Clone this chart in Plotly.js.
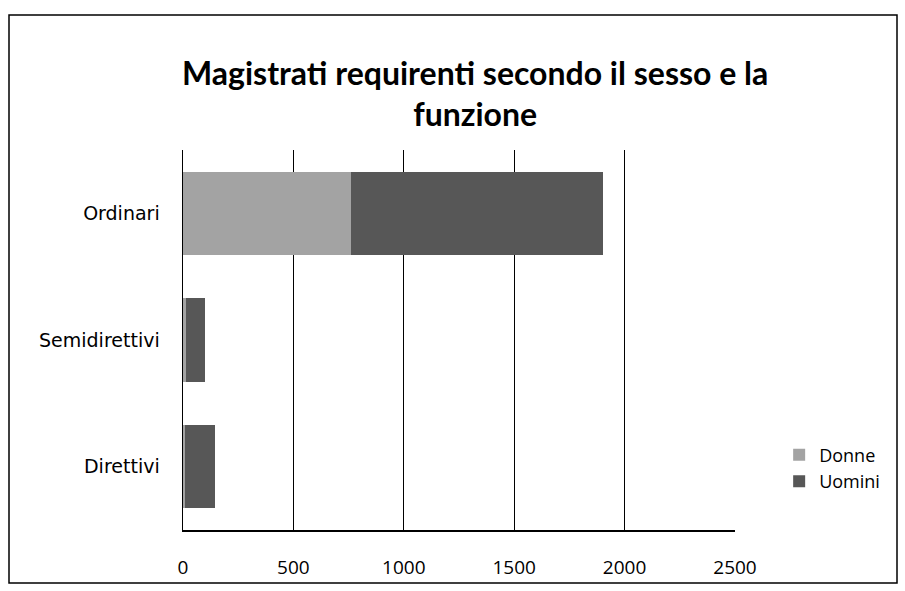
<!DOCTYPE html>
<html>
<head>
<meta charset="utf-8">
<script src="https://cdn.plot.ly/plotly-3.0.1.min.js"></script>
<style>
html,body{margin:0;padding:0;background:#fff;}
#chart{width:905px;height:591px;}
</style>
</head>
<body>
<div id="chart"></div>
<script>
// Data (display order, top to bottom)
const categories = ['Ordinari', 'Semidirettivi', 'Direttivi'];
const donne = [760, 15, 10];
const uomini = [1140, 85, 135];
const seriesNames = ['Donne', 'Uomini'];
const xTicks = [0, 500, 1000, 1500, 2000, 2500];

const font = 'Lato, "Open Sans", "DejaVu Sans", sans-serif';
const tickFontFamily = '"Open Sans", "DejaVu Sans", sans-serif';

const traces = [
  {
    type: 'bar', orientation: 'h', name: seriesNames[0],
    y: categories, x: donne,
    marker: {color: '#a3a3a3', line: {width: 0}}
  },
  {
    type: 'bar', orientation: 'h', name: seriesNames[1],
    y: categories, x: uomini,
    marker: {color: '#575757', line: {width: 0}}
  }
];

const layout = {
  width: 905, height: 591,
  paper_bgcolor: '#fff', plot_bgcolor: '#fff',
  margin: {l: 183, r: 170, t: 150, b: 61},
  barmode: 'stack',
  bargap: 0.34,
  showlegend: true,
  title: {
    text: '<b>Magistrati requirenti secondo il sesso e la<br>funzione</b>',
    font: {family: font, size: 32, color: '#000'},
    x: 0.525, xanchor: 'center', y: 0.857, yanchor: 'middle'
  },
  font: {family: font, color: '#000'},
  xaxis: {
    range: [0, 2500],
    tickvals: xTicks,
    ticktext: xTicks.map(String),
    showgrid: true, gridcolor: '#000', gridwidth: 1,
    zeroline: false,
    showline: true, linecolor: '#000', linewidth: 1.5,
    ticks: '', ticklabelstandoff: 20,
    tickfont: {family: tickFontFamily, size: 19, color: '#000'}
  },
  yaxis: {
    type: 'category',
    categoryorder: 'array', categoryarray: categories,
    autorange: 'reversed',
    showgrid: false, zeroline: false,
    showline: true, linecolor: '#000', linewidth: 1.5,
    ticks: '', ticklabelstandoff: 18,
    tickfont: {family: '"DejaVu Sans", sans-serif', size: 19, color: '#000'}
  },
  legend: {
    x: 1.08, xanchor: 'left', y: 0.163, yanchor: 'middle',
    traceorder: 'normal',
    font: {family: tickFontFamily, size: 18, color: '#000'},
    itemwidth: 30, tracegroupgap: 4,
    bgcolor: 'rgba(0,0,0,0)'
  },
  shapes: [
    {
      type: 'rect', xref: 'paper', yref: 'paper', layer: 'above',
      x0: (9 - 183) / 552, x1: (897 - 183) / 552,
      y0: (530 - 583) / 380, y1: (530 - 15) / 380,
      line: {color: '#000', width: 1.5}, fillcolor: 'rgba(0,0,0,0)'
    }
  ]
};

Plotly.newPlot('chart', traces, layout, {displayModeBar: false, staticPlot: true});
</script>
</body>
</html>
